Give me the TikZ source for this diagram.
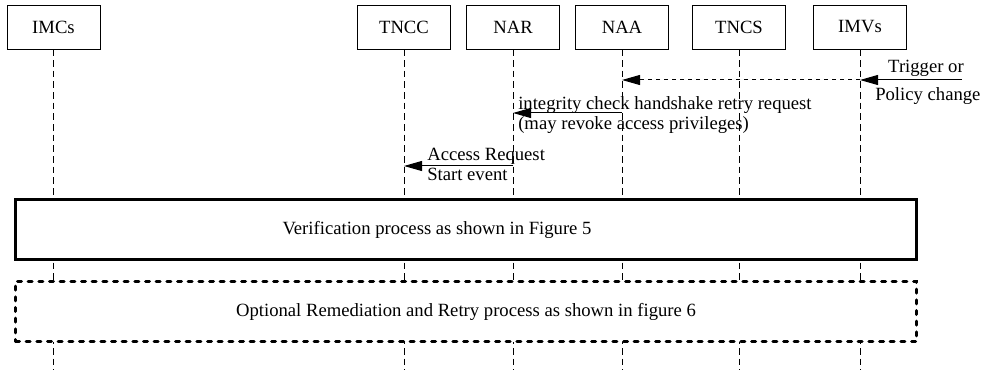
\documentclass[tikz,border=0pt]{standalone}
\usepackage{fontspec}
\setmainfont{Liberation Serif}
\usetikzlibrary{arrows.meta}
\begin{document}
\begin{tikzpicture}[x=0.75pt,y=-0.75pt,
  font=\fontsize{14}{15}\selectfont,
  actor/.style={draw,line width=0.6pt,fill=white,minimum width=69.75pt,minimum height=33pt,inner sep=0pt},
  lifeline/.style={line width=0.6pt,dash pattern=on 5pt off 3pt},
  msg/.style={line width=0.75pt,-{Triangle[length=13.5pt,width=7.5pt]}},
  lbl/.style={anchor=base west,inner sep=0pt},
  procbox/.style={draw,fill=white,line width=2.25pt,minimum width=675.75pt,minimum height=45pt,inner sep=0pt},
  optbox/.style={procbox,dash pattern=on 3pt off 5pt,line cap=round}]
\useasboundingbox (0,0) rectangle (984,370);

% participants
\node[actor] (imcs) at (53.5,27) {IMCs};
\node[actor] (tncc) at (404,27) {TNCC};
\node[actor] (nar)  at (513,27) {NAR};
\node[actor] (naa)  at (622,27) {NAA};
\node[actor] (tncs) at (739,27) {TNCS};
\node[actor] (imvs) at (860,27) {IMVs};

% lifelines
\foreach \p in {imcs,tncc,nar,naa,tncs,imvs}{
  \coordinate (\p-end) at (\p.south |- 0,370);
  \draw[lifeline] (\p.south) -- (\p-end);
}

% trigger from outside
\coordinate (trig) at (962,80);
\draw[msg] (trig) -- (imvs |- trig);
\node[anchor=base,inner sep=0pt] (triglbl) at (926,73) {Trigger or};
\node[lbl] (policylbl) at (875,101) {Policy change};

% IMVs -> NAA
\draw[msg,dashed] (imvs |- trig) -- (naa |- trig);

% NAA -> NAR
\coordinate (retry) at (0,113);
\draw[msg] (naa |- retry) -- (nar |- retry);
\node[lbl] (retrylbl) at (518,110) {integrity check handshake retry request};
\node[lbl] (retrylbl2) at (518,130) {(may revoke access privileges)};

% NAR -> TNCC
\coordinate (start) at (0,166);
\draw[msg] (nar |- start) -- (tncc |- start);
\node[lbl] (startlbl) at (427,161) {Access Request};
\node[lbl] (startlbl2) at (427,181) {Start event};

% process blocks
\node[procbox] (verif) at (466,229.5) {};
\node (veriflbl) at (437,229.5) {Verification process as shown in Figure 5};
\node[optbox] (remed) at (466,311.5) {Optional Remediation and Retry process as shown in figure 6};
\end{tikzpicture}
\end{document}
